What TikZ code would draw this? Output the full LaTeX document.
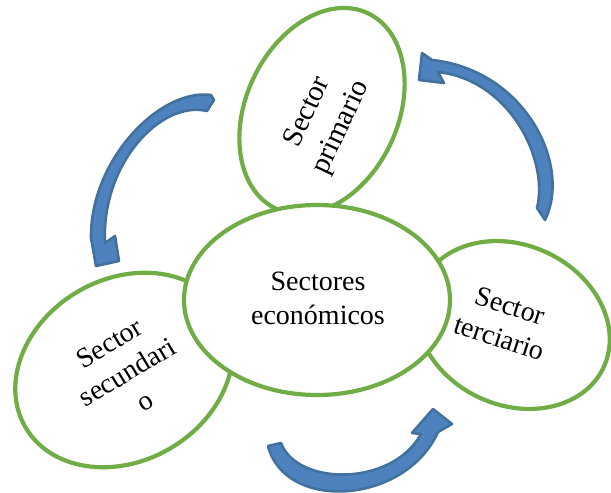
\documentclass[tikz,border=0pt]{standalone}
\usepackage{fontspec}
\setmainfont{Liberation Serif}
\newfontfamily\timesfam{Liberation Serif}
\usetikzlibrary{shapes.geometric}
\definecolor{ringgreen}{HTML}{70AD47}
\definecolor{arrowfill}{HTML}{4E82BE}
\definecolor{arrowline}{HTML}{41719C}
\tikzset{
  ring/.style={ellipse, draw=ringgreen, line width=4.2pt, fill=white, inner sep=0pt},
  txt/.style={align=center, font=\timesfam\fontsize{28}{34}\selectfont, inner sep=0pt},
  blockarrow/.style={fill=arrowfill, draw=arrowline, line width=2.6pt, line join=round}
}
\begin{document}
\begin{tikzpicture}[x=1pt, y=-1pt]
\useasboundingbox (0,0) rectangle (611,493);
% satellite ellipses
\node[ring, minimum width=216pt, minimum height=152pt, rotate=65] (prim) at (322,111) {};
\node[ring, minimum width=228pt, minimum height=182pt, rotate=30] (secu) at (124,370) {};
\node[ring, minimum width=200pt, minimum height=160pt, rotate=-25] (terc) at (513,325) {};
% central ellipse
\node[ring, minimum width=266pt, minimum height=190pt] (cent) at (317,300) {};
% texts
\node[txt, rotate=65, font=\timesfam\fontsize{29}{37}\selectfont] (tprim) at (325,120) {Sector\\primario};
\node[txt, rotate=31] (tsecu) at (127,372) {Sector\\secundari\\o};
\node[txt, rotate=-18] (tterc) at (505,322) {Sector\\terciario};
\node[txt] (tcent) at (318,298) {Sectores\\económicos};
% curved block arrows
\draw[blockarrow] (207,111) -- (214,100) -- (211,95)
  .. controls (160,88) and (90,160) .. (91,238)
  -- (96,266) -- (119,261) -- (115,236) -- (105,243)
  .. controls (101,165) and (160,100) .. (207,111) -- cycle;
\draw[blockarrow] (537,208) -- (545,220)
  .. controls (572,165) and (525,70) .. (432,60)
  -- (422,53) -- (419,80) -- (444,83) -- (438,72)
  .. controls (510,80) and (549,160) .. (537,208) -- cycle;
\draw[blockarrow] (281,443) -- (268,446)
  .. controls (285,512) and (405,505) .. (438,432)
  -- (452,424) -- (433,409) -- (412,433) -- (421,434)
  .. controls (392,487) and (297,486) .. (281,443) -- cycle;
\end{tikzpicture}
\end{document}
